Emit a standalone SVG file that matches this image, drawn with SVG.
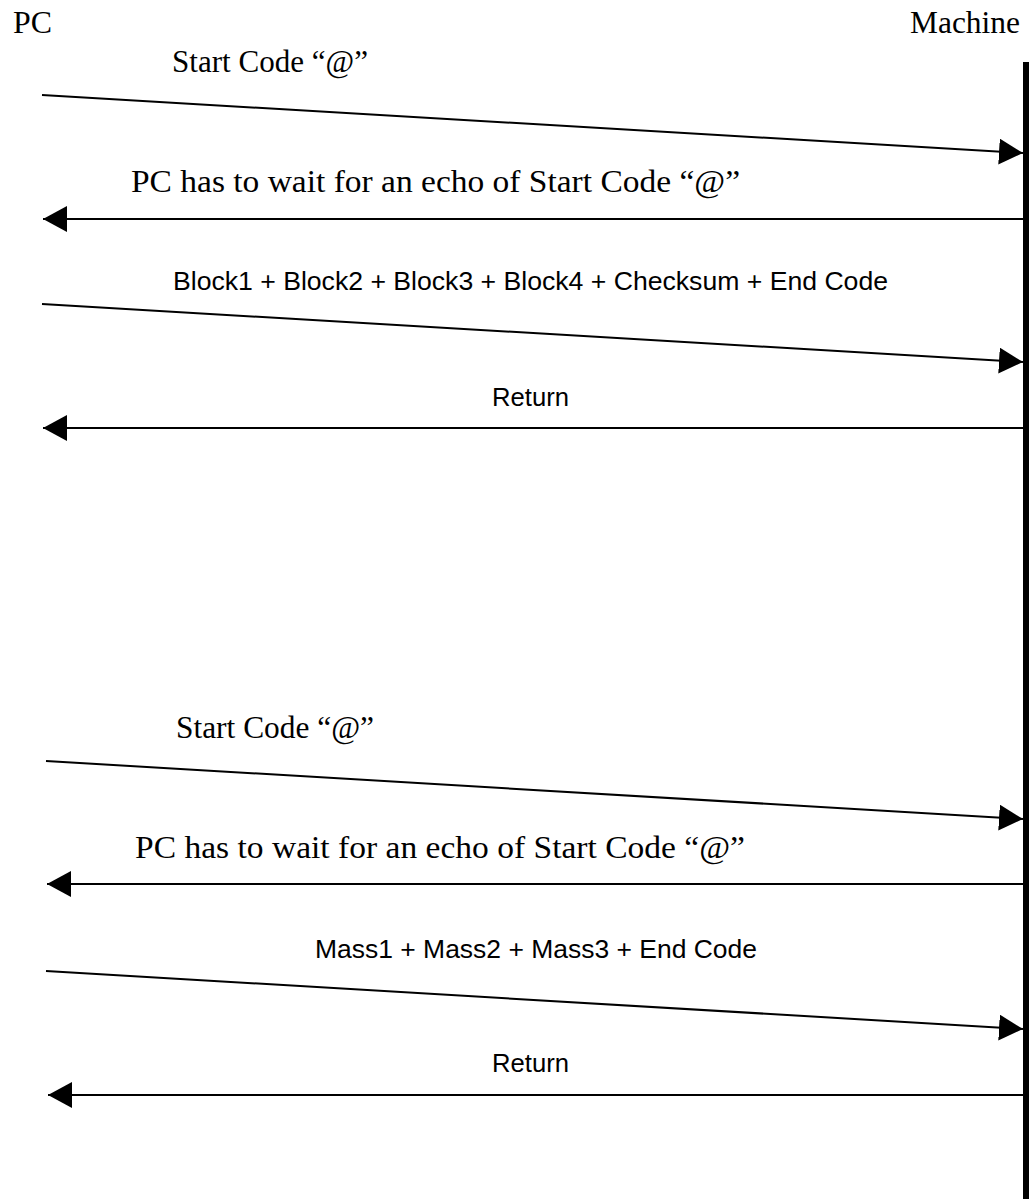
<svg xmlns="http://www.w3.org/2000/svg" width="1029" height="1199" viewBox="0 0 1029 1199">
  <style>
    .serif { font-family: "Liberation Serif", "Times New Roman", serif; font-size: 31px; fill: #000; }
    .sans { font-family: "Liberation Sans", Arial, sans-serif; font-size: 26px; fill: #000; }
    .msg { stroke: #000; stroke-width: 2; fill: none; marker-end: url(#head); }
  </style>
  <defs>
    <marker id="head" viewBox="0 0 24 26" refX="24" refY="13" markerWidth="24" markerHeight="26" markerUnits="userSpaceOnUse" orient="auto">
      <path d="M0,0 L24,13 L0,26 z" fill="#000"/>
    </marker>
  </defs>
  <rect width="1029" height="1199" fill="#fff"/>

  <!-- participants -->
  <g id="pc">
    <text class="serif" x="13" y="33" textLength="39" lengthAdjust="spacingAndGlyphs">PC</text>
  </g>
  <g id="machine">
    <text class="serif" x="910" y="33" textLength="110" lengthAdjust="spacingAndGlyphs">Machine</text>
    <rect x="1023" y="62" width="6" height="1137" fill="#000"/>
  </g>

  <!-- messages -->
  <g id="connectors">
    <line class="msg" x1="42" y1="95" x2="1023" y2="153"/>
    <line class="msg" x1="1023" y1="219" x2="43" y2="219"/>
    <line class="msg" x1="42" y1="304" x2="1023" y2="362"/>
    <line class="msg" x1="1023" y1="428" x2="43" y2="428"/>
    <line class="msg" x1="46" y1="761" x2="1023" y2="819"/>
    <line class="msg" x1="1023" y1="884" x2="47" y2="884"/>
    <line class="msg" x1="46" y1="971" x2="1023" y2="1029"/>
    <line class="msg" x1="1023" y1="1095" x2="48" y2="1095"/>
  </g>

  <!-- message labels -->
  <g id="labels">
    <text class="serif" x="172" y="72" textLength="196" lengthAdjust="spacingAndGlyphs">Start Code “@”</text>
    <text class="serif" x="131" y="192" textLength="609" lengthAdjust="spacingAndGlyphs">PC has to wait for an echo of Start Code “@”</text>
    <text class="sans" x="173" y="290" textLength="715" lengthAdjust="spacingAndGlyphs">Block1 + Block2 + Block3 + Block4 + Checksum + End Code</text>
    <text class="sans" x="492" y="406" textLength="77" lengthAdjust="spacingAndGlyphs">Return</text>
    <text class="serif" x="176" y="738" textLength="198" lengthAdjust="spacingAndGlyphs">Start Code “@”</text>
    <text class="serif" x="135" y="858" textLength="610" lengthAdjust="spacingAndGlyphs">PC has to wait for an echo of Start Code “@”</text>
    <text class="sans" x="315" y="958" textLength="442" lengthAdjust="spacingAndGlyphs">Mass1 + Mass2 + Mass3 + End Code</text>
    <text class="sans" x="492" y="1072" textLength="77" lengthAdjust="spacingAndGlyphs">Return</text>
  </g>
</svg>
